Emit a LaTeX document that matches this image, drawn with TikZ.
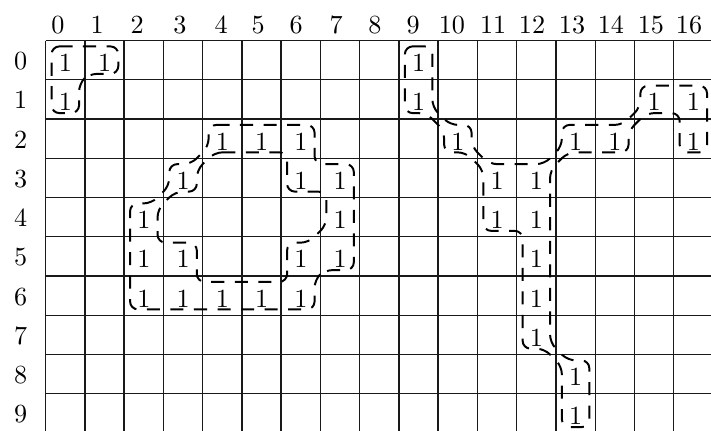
\documentclass[tikz,border=0pt]{standalone}
\begin{document}
\begin{tikzpicture}[x=15pt,y=-15pt,
  gridline/.style={line width=0.55pt,black!90},
  blob/.style={line width=0.75pt,dash pattern=on 5pt off 4pt,rounded corners=3pt},
  val/.style={anchor=base,inner sep=0pt},
  lab/.style={anchor=base,inner sep=0pt}]
\useasboundingbox (-1.164,-1.032) rectangle (16.95,9.923);
\clip (-1.164,-1.032) rectangle (16.95,9.923);
% grid
\foreach \i in {0,...,17} \draw[gridline] (\i,0) -- (\i,10);
\foreach \j in {0,...,10} \draw[gridline] (0,\j) -- (17,\j);
% labels
\foreach \i/\x in {0/0.31,1/1.31,2/2.33,3/3.42,4/4.47,5/5.41,6/6.38,7/7.4,8/8.39,9/9.36,10/10.35,11/11.4,12/12.39,13/13.41,14/14.4,15/15.42,16/16.39}
  \node[lab] (col\i) at (\x,-0.17) {\i};
\foreach \r in {0,...,9}
  \node[lab] (row\r) at (-0.64,\r+0.74) {\r};
% values
\foreach \c/\r in {0/0,1/0,0/1,9/0,9/1,15/1,16/1,4/2,5/2,6/2,10/2,13/2,14/2,16/2,3/3,6/3,7/3,11/3,12/3,2/4,7/4,11/4,12/4,2/5,3/5,6/5,7/5,12/5,2/6,3/6,4/6,5/6,6/6,12/6,12/7,13/8,13/9}
  \node[val] (v-\r-\c) at (\c+0.5,\r+0.79) {1};
% contours
\draw[blob] (0.15,0.15) -- (1.85,0.15) -- (1.85,0.85) -- (1.1,0.85) -- (0.85,1.1) -- (0.85,1.85) -- (0.15,1.85) -- cycle;
\draw[blob] (4.15,2.15) -- (6.85,2.15) -- (6.85,3.15) -- (7.85,3.15) -- (7.85,5.85) -- (7.1,5.85) -- (6.85,6.1) -- (6.85,6.85) -- (2.15,6.85) -- (2.15,4.15) -- (2.7,4.15) -- (3.15,3.7) -- (3.15,3.15) -- (3.7,3.15) -- (4.15,2.7) -- cycle;
\draw[blob] (4.3,2.85) -- (6.15,2.85) -- (6.15,3.85) -- (7.15,3.85) -- (7.15,4.7) -- (6.7,5.15) -- (6.15,5.15) -- (6.15,6.15) -- (3.85,6.15) -- (3.85,5.15) -- (2.85,5.15) -- (2.85,4.3) -- (3.3,3.85) -- (3.85,3.85) -- (3.85,3.3) -- cycle;
\draw[blob] (9.15,0.15) -- (9.85,0.15) -- (9.85,1.7) -- (10.3,2.15) -- (10.85,2.15) -- (10.85,2.7) -- (11.3,3.15) -- (12.7,3.15) -- (13.15,2.7) -- (13.15,2.15) -- (14.7,2.15) -- (15.15,1.7) -- (15.15,1.15) -- (16.85,1.15) -- (16.85,2.85) -- (16.15,2.85) -- (16.15,1.85) -- (15.3,1.85) -- (14.85,2.3) -- (14.85,2.85) -- (13.3,2.85) -- (12.85,3.3) -- (12.85,7.7) -- (13.3,8.15) -- (13.85,8.15) -- (13.85,9.85) -- (13.15,9.85) -- (13.15,8.3) -- (12.7,7.85) -- (12.15,7.85) -- (12.15,4.85) -- (11.15,4.85) -- (11.15,3.3) -- (10.7,2.85) -- (10.15,2.85) -- (10.15,2.3) -- (9.7,1.85) -- (9.15,1.85) -- cycle;
\end{tikzpicture}
\end{document}
